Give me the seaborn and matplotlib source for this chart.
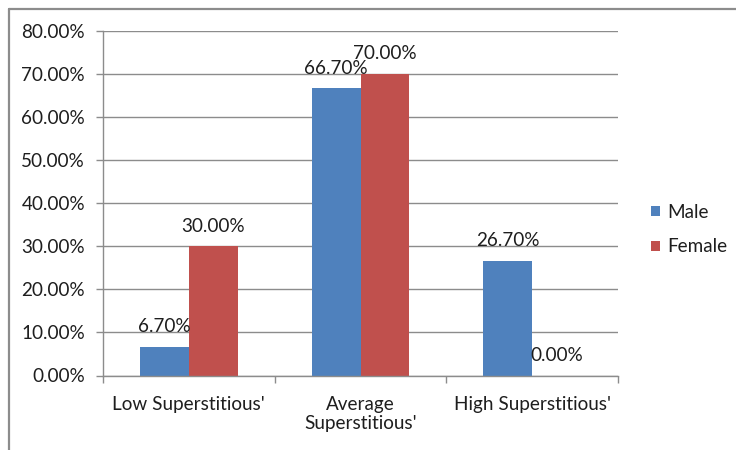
import matplotlib
matplotlib.use("Agg")
import matplotlib.pyplot as plt
from matplotlib.patches import Patch
from matplotlib.lines import Line2D
import seaborn as sns
import pandas as pd

categories = ["Low Superstitious'", "Average\nSuperstitious'", "High Superstitious'"]
male = [6.7, 66.7, 26.7]
female = [30.0, 70.0, 0.0]
series_names = ["Male", "Female"]
y_ticks = [0, 10, 20, 30, 40, 50, 60, 70, 80]

colors = ["#4F81BD", "#C0504D"]
text_color = "#1e1e1e"
grid_color = "#8c8c8c"
fs = 13.6

df = pd.DataFrame({
    "category": categories * 2,
    "value": male + female,
    "series": [series_names[0]] * 3 + [series_names[1]] * 3,
})

sns.set_style("white")
plt.rcParams["font.family"] = ["Lato", "DejaVu Sans"]

fig = plt.figure(figsize=(7.36, 4.5), dpi=100)
ax = fig.add_axes([103 / 736, 1 - 375.5 / 450, 515 / 736, 344.5 / 450])

sns.barplot(data=df, x="category", y="value", hue="series", order=categories,
            hue_order=series_names, palette=colors, width=0.57, gap=0,
            saturation=1, linewidth=0, legend=False, ax=ax)

# data labels above each bar
for cont, vals in zip(ax.containers, [male, female]):
    for bar, v in zip(cont, vals):
        cx = bar.get_x() + bar.get_width() / 2
        ax.annotate(f"{v:.2f}%", xy=(cx, v), xytext=(0, 14.5), textcoords="offset points",
                    ha="center", va="center", fontsize=fs, color=text_color)

ax.set_xlim(-0.5, 2.5)
ax.set_ylim(0, 80)
ax.set_yticks(y_ticks)
ax.set_yticklabels([f"{t:.2f}%" for t in y_ticks])
ax.yaxis.grid(True, color=grid_color, linewidth=1)
ax.set_axisbelow(True)
ax.set_xlabel("")
ax.set_ylabel("")

for side in ["top", "right"]:
    ax.spines[side].set_visible(False)
for side in ["left", "bottom"]:
    ax.spines[side].set_color(grid_color)
    ax.spines[side].set_linewidth(1)

ax.tick_params(axis="y", length=5, width=1, color=grid_color, pad=8,
               labelsize=fs, labelcolor=text_color, left=True)
ax.tick_params(axis="x", which="major", length=0, pad=14.5, labelsize=fs,
               labelcolor=text_color, bottom=True)
ax.set_xticks([-0.5, 0.5, 1.5, 2.5], minor=True)
ax.tick_params(axis="x", which="minor", length=5, width=1, color=grid_color, bottom=True)

handles = [Patch(facecolor=c, edgecolor="none", label=n) for c, n in zip(colors, series_names)]
leg = fig.legend(handles=handles, loc="center left", bbox_to_anchor=(651 / 736, 1 - 229.5 / 450),
                 frameon=False, fontsize=fs, handlelength=0.45, handleheight=0.45,
                 handletextpad=0.4, labelspacing=0.95, borderpad=0, borderaxespad=0)
for t in leg.get_texts():
    t.set_color(text_color)

# chart area border
fig.add_artist(Line2D([8.5 / 736, 1], [1 - 8.5 / 450] * 2, transform=fig.transFigure,
                      color="#8c8c8c", linewidth=1.6))
fig.add_artist(Line2D([8.5 / 736] * 2, [0, 1 - 8.5 / 450], transform=fig.transFigure,
                      color="#8c8c8c", linewidth=1.6))

fig.savefig("out.png", dpi=100)
